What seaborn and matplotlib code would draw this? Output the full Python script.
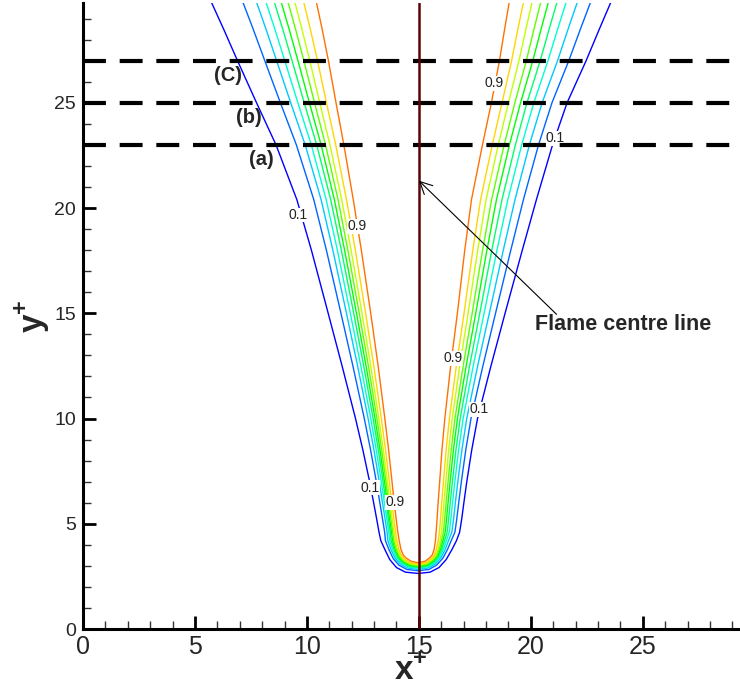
import numpy as np
import pandas as pd
import seaborn as sns
import matplotlib.pyplot as plt

# ---- data ----
# contour levels (10 lines between 0.1 and 0.9) and their colours
LEVELS = [0.1, 0.189, 0.278, 0.367, 0.456, 0.544, 0.633, 0.722, 0.811, 0.9]
LEVEL_COLORS = ['#0000ff', '#0065ff', '#00c9ff', '#00ffd0', '#00ff6b',
                '#00ff06', '#5eff00', '#c3ff00', '#ffd600', '#ff7100']

# flame branches: x of the 0.1 and 0.9 contours at each y row
ROW_Y = [29.74, 28.5, 27.0, 25.0, 23.0, 20.4, 18.0, 15.0, 12.5, 10.0, 8.5, 7.0, 6.0, 5.2, 4.6]
LEFT_01 = [5.75, 6.28, 6.90, 7.75, 8.62, 9.55, 10.20, 10.95, 11.57, 12.17, 12.50, 12.80, 12.98, 13.12, 13.22]
LEFT_09 = [10.43, 10.68, 10.96, 11.30, 11.65, 12.07, 12.43, 12.85, 13.18, 13.48, 13.65, 13.80, 13.90, 13.99, 14.06]
RIGHT_01 = [23.56, 23.06, 22.47, 21.62, 20.97, 20.25, 19.62, 18.85, 18.22, 17.62, 17.36, 17.14, 17.01, 16.91, 16.82]
RIGHT_09 = [19.03, 18.83, 18.60, 18.24, 17.84, 17.35, 17.05, 16.72, 16.42, 16.16, 16.03, 15.93, 15.86, 15.81, 15.77]

# rounded flame tip (left -> right) for the 0.1 and 0.9 contours
TIP_01_X = [13.30, 13.48, 13.70, 14.00, 14.40, 14.97, 15.50, 15.90, 16.22, 16.48, 16.68]
TIP_01_Y = [4.20, 3.78, 3.30, 2.92, 2.70, 2.64, 2.70, 2.92, 3.30, 3.78, 4.20]
TIP_09_X = [14.12, 14.20, 14.30, 14.42, 14.65, 14.97, 15.28, 15.48, 15.60, 15.68, 15.74]
TIP_09_Y = [4.20, 3.78, 3.52, 3.38, 3.22, 3.15, 3.22, 3.38, 3.52, 3.78, 4.20]

# where the intermediate contours sit across the band (0 = 0.1 line, 1 = 0.9 line)
BAND_POS_LEFT = [0.0, 0.30, 0.43, 0.52, 0.60, 0.665, 0.73, 0.795, 0.88, 1.0]
BAND_POS_RIGHT = [0.0, 0.20, 0.33, 0.44, 0.53, 0.615, 0.69, 0.775, 0.86, 1.0]

CUT_Y = [23, 25, 27]
CUT_NAMES = ['(a)', '(b)', '(C)']
CUT_NAME_X = [7.98, 7.39, 6.47]
CENTRE_X = 15.0

# contour labels: (text, x, y)
CONTOUR_LABELS = [('0.1', 9.60, 19.67), ('0.9', 12.22, 19.14),
                  ('0.9', 18.36, 25.92), ('0.1', 21.07, 23.31),
                  ('0.9', 16.53, 12.86), ('0.1', 17.68, 10.44),
                  ('0.1', 12.81, 6.71), ('0.9', 13.93, 6.03)]

# ---- build long-form table of contour vertices ----
rows = []
ry = np.array(ROW_Y)
for k, lev in enumerate(LEVELS):
    fl, fr = BAND_POS_LEFT[k], BAND_POS_RIGHT[k]
    ft = 0.5 * (fl + fr)
    xl = np.array(LEFT_01) + fl * (np.array(LEFT_09) - np.array(LEFT_01))
    xr = np.array(RIGHT_01) + fr * (np.array(RIGHT_09) - np.array(RIGHT_01))
    xt = np.array(TIP_01_X) + ft * (np.array(TIP_09_X) - np.array(TIP_01_X))
    yt = np.array(TIP_01_Y) + ft * (np.array(TIP_09_Y) - np.array(TIP_01_Y))
    xs = np.concatenate([xl, xt, xr[::-1]])
    ys = np.concatenate([ry, yt, ry[::-1]])
    for i, (x, y) in enumerate(zip(xs, ys)):
        rows.append({'level': lev, 'order': i, 'x': x, 'y': y})
df = pd.DataFrame(rows)

# ---- plot ----
sns.set_theme(style='ticks')
plt.rcParams['font.family'] = ['Liberation Sans', 'DejaVu Sans']
plt.rcParams['mathtext.fontset'] = 'custom'
plt.rcParams['mathtext.bf'] = 'Liberation Sans:bold'
plt.rcParams['mathtext.rm'] = 'Liberation Sans'

fig = plt.figure(figsize=(7.4, 6.9), dpi=100)
ax = fig.add_axes([0.1122, 0.0884, 0.8865, 0.9072])

sns.lineplot(data=df, x='x', y='y', hue='level', units='level',
             palette=dict(zip(LEVELS, LEVEL_COLORS)), estimator=None,
             sort=False, legend=False, linewidth=1.0, ax=ax)

for yc in CUT_Y:
    ax.axhline(yc, color='black', lw=3, dashes=(5.5, 3.3), zorder=4)
ax.axvline(CENTRE_X, color='#5a0505', lw=1.8, zorder=5)

for name, yc, xx in zip(CUT_NAMES, CUT_Y, CUT_NAME_X):
    ax.text(xx, yc - 0.68, name, ha='center', va='center',
            fontsize=14.5, fontweight='bold', zorder=6)

for txt, x, y in CONTOUR_LABELS:
    ax.text(x, y, txt, ha='center', va='center', fontsize=10, color='#222222',
            bbox=dict(fc='white', ec='none', pad=0.3), zorder=3)

ax.annotate('', xy=(15.0, 21.3), xytext=(21.15, 14.95),
            arrowprops=dict(arrowstyle='->', lw=0.8, color='black',
                            mutation_scale=22, shrinkA=0, shrinkB=0), zorder=6)
ax.text(20.2, 14.45, 'Flame centre line', ha='left', va='center',
        fontsize=15.5, fontweight='bold')

ax.set_xlim(0, 29.3)
ax.set_ylim(0, 29.74)
ax.set_xticks([0, 5, 10, 15, 20, 25])
ax.set_yticks([0, 5, 10, 15, 20, 25])
ax.set_xticks(np.arange(0, 30, 1), minor=True)
ax.set_yticks(np.arange(0, 30, 1), minor=True)
ax.tick_params(which='major', direction='in', length=9.5, width=2, color='black')
ax.tick_params(which='minor', direction='in', length=5.5, width=1, color='#333333')
ax.tick_params(axis='x', which='major', labelsize=18, pad=4)
ax.tick_params(axis='y', which='major', labelsize=14, pad=5)

sns.despine(ax=ax)
for s in ['left', 'bottom']:
    ax.spines[s].set_linewidth(2.2)
    ax.spines[s].set_color('black')

ax.set_xlabel(r'$\mathbf{x}^{\mathbf{+}}$', fontsize=24)
ax.xaxis.set_label_coords(0.5, -0.043)
ax.set_ylabel(r'$\mathbf{y}^{\mathbf{+}}$', fontsize=24, labelpad=2)

fig.savefig('out.png', dpi=100)
